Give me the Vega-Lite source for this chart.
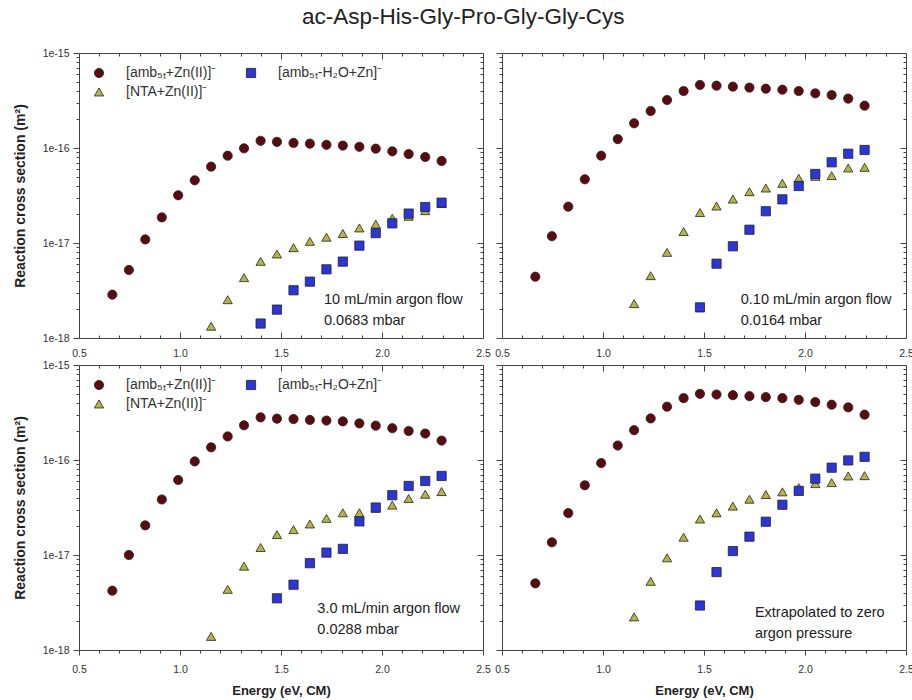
{
  "$schema": "https://vega.github.io/schema/vega-lite/v6.json",
  "padding": {"left": 12, "top": 6, "right": 0, "bottom": 0},
  "title": {"text": "ac-Asp-His-Gly-Pro-Gly-Gly-Cys", "fontSize": 22.5, "fontWeight": "normal", "font": "Liberation Sans", "color": "#222", "anchor": "middle", "frame": "bounds", "offset": 19},
  "config": {
    "font": "Liberation Sans",
    "view": {"stroke": "#444", "strokeWidth": 1},
    "axis": {"grid": false, "domain": false, "ticks": true, "labelFont": "Liberation Sans", "labelFontSize": 10.5, "labelColor": "#333", "tickColor": "#444", "tickWidth": 1, "titleFont": "Liberation Sans", "titleFontSize": 13, "titleFontWeight": "bold", "titleColor": "#222", "labelOverlap": false, "labelFlush": false},
    "axisY": {"titleFontSize": 14},
    "legend": {"labelFont": "Liberation Sans", "orient": "top-left", "columns": 2, "offset": 13, "labelFontSize": 14, "labelColor": "#333", "symbolSize": 85, "symbolStrokeColor": "#222", "symbolStrokeWidth": 0.8, "columnPadding": 27, "rowPadding": 5, "labelOffset": 20}
  },
  "datasets": {
    "points": [
      {"panel":"A","series":"amb+Zn","energy":0.665,"sigma":2.86e-18},
      {"panel":"A","series":"amb+Zn","energy":0.747,"sigma":5.2e-18},
      {"panel":"A","series":"amb+Zn","energy":0.828,"sigma":1.09e-17},
      {"panel":"A","series":"amb+Zn","energy":0.910,"sigma":1.86e-17},
      {"panel":"A","series":"amb+Zn","energy":0.991,"sigma":3.18e-17},
      {"panel":"A","series":"amb+Zn","energy":1.073,"sigma":4.57e-17},
      {"panel":"A","series":"amb+Zn","energy":1.154,"sigma":6.36e-17},
      {"panel":"A","series":"amb+Zn","energy":1.236,"sigma":8.3e-17},
      {"panel":"A","series":"amb+Zn","energy":1.317,"sigma":9.92e-17},
      {"panel":"A","series":"amb+Zn","energy":1.399,"sigma":1.19e-16},
      {"panel":"A","series":"amb+Zn","energy":1.480,"sigma":1.16e-16},
      {"panel":"A","series":"amb+Zn","energy":1.562,"sigma":1.13e-16},
      {"panel":"A","series":"amb+Zn","energy":1.643,"sigma":1.11e-16},
      {"panel":"A","series":"amb+Zn","energy":1.725,"sigma":1.08e-16},
      {"panel":"A","series":"amb+Zn","energy":1.806,"sigma":1.06e-16},
      {"panel":"A","series":"amb+Zn","energy":1.888,"sigma":1.03e-16},
      {"panel":"A","series":"amb+Zn","energy":1.969,"sigma":9.84e-17},
      {"panel":"A","series":"amb+Zn","energy":2.051,"sigma":9.22e-17},
      {"panel":"A","series":"amb+Zn","energy":2.132,"sigma":8.64e-17},
      {"panel":"A","series":"amb+Zn","energy":2.214,"sigma":8.04e-17},
      {"panel":"A","series":"amb+Zn","energy":2.295,"sigma":7.3e-17},
      {"panel":"A","series":"NTA+Zn","energy":1.154,"sigma":1.33e-18},
      {"panel":"A","series":"NTA+Zn","energy":1.236,"sigma":2.53e-18},
      {"panel":"A","series":"NTA+Zn","energy":1.317,"sigma":4.32e-18},
      {"panel":"A","series":"NTA+Zn","energy":1.399,"sigma":6.41e-18},
      {"panel":"A","series":"NTA+Zn","energy":1.480,"sigma":7.66e-18},
      {"panel":"A","series":"NTA+Zn","energy":1.562,"sigma":8.93e-18},
      {"panel":"A","series":"NTA+Zn","energy":1.643,"sigma":1.04e-17},
      {"panel":"A","series":"NTA+Zn","energy":1.725,"sigma":1.15e-17},
      {"panel":"A","series":"NTA+Zn","energy":1.806,"sigma":1.26e-17},
      {"panel":"A","series":"NTA+Zn","energy":1.888,"sigma":1.44e-17},
      {"panel":"A","series":"NTA+Zn","energy":1.969,"sigma":1.58e-17},
      {"panel":"A","series":"NTA+Zn","energy":2.051,"sigma":1.82e-17},
      {"panel":"A","series":"NTA+Zn","energy":2.132,"sigma":1.91e-17},
      {"panel":"A","series":"NTA+Zn","energy":2.214,"sigma":2.19e-17},
      {"panel":"A","series":"NTA+Zn","energy":2.295,"sigma":2.6e-17},
      {"panel":"A","series":"amb-H2O+Zn","energy":1.399,"sigma":1.42e-18},
      {"panel":"A","series":"amb-H2O+Zn","energy":1.480,"sigma":1.99e-18},
      {"panel":"A","series":"amb-H2O+Zn","energy":1.562,"sigma":3.18e-18},
      {"panel":"A","series":"amb-H2O+Zn","energy":1.643,"sigma":3.92e-18},
      {"panel":"A","series":"amb-H2O+Zn","energy":1.725,"sigma":5.28e-18},
      {"panel":"A","series":"amb-H2O+Zn","energy":1.806,"sigma":6.37e-18},
      {"panel":"A","series":"amb-H2O+Zn","energy":1.888,"sigma":9.38e-18},
      {"panel":"A","series":"amb-H2O+Zn","energy":1.969,"sigma":1.27e-17},
      {"panel":"A","series":"amb-H2O+Zn","energy":2.051,"sigma":1.61e-17},
      {"panel":"A","series":"amb-H2O+Zn","energy":2.132,"sigma":2.04e-17},
      {"panel":"A","series":"amb-H2O+Zn","energy":2.214,"sigma":2.39e-17},
      {"panel":"A","series":"amb-H2O+Zn","energy":2.295,"sigma":2.66e-17},

      {"panel":"B","series":"amb+Zn","energy":0.665,"sigma":4.42e-18},
      {"panel":"B","series":"amb+Zn","energy":0.747,"sigma":1.18e-17},
      {"panel":"B","series":"amb+Zn","energy":0.828,"sigma":2.41e-17},
      {"panel":"B","series":"amb+Zn","energy":0.910,"sigma":4.68e-17},
      {"panel":"B","series":"amb+Zn","energy":0.991,"sigma":8.3e-17},
      {"panel":"B","series":"amb+Zn","energy":1.073,"sigma":1.24e-16},
      {"panel":"B","series":"amb+Zn","energy":1.154,"sigma":1.82e-16},
      {"panel":"B","series":"amb+Zn","energy":1.236,"sigma":2.45e-16},
      {"panel":"B","series":"amb+Zn","energy":1.317,"sigma":3.2e-16},
      {"panel":"B","series":"amb+Zn","energy":1.399,"sigma":3.98e-16},
      {"panel":"B","series":"amb+Zn","energy":1.480,"sigma":4.61e-16},
      {"panel":"B","series":"amb+Zn","energy":1.562,"sigma":4.53e-16},
      {"panel":"B","series":"amb+Zn","energy":1.643,"sigma":4.42e-16},
      {"panel":"B","series":"amb+Zn","energy":1.725,"sigma":4.32e-16},
      {"panel":"B","series":"amb+Zn","energy":1.806,"sigma":4.21e-16},
      {"panel":"B","series":"amb+Zn","energy":1.888,"sigma":4.11e-16},
      {"panel":"B","series":"amb+Zn","energy":1.969,"sigma":3.98e-16},
      {"panel":"B","series":"amb+Zn","energy":2.051,"sigma":3.76e-16},
      {"panel":"B","series":"amb+Zn","energy":2.132,"sigma":3.61e-16},
      {"panel":"B","series":"amb+Zn","energy":2.214,"sigma":3.31e-16},
      {"panel":"B","series":"amb+Zn","energy":2.295,"sigma":2.79e-16},
      {"panel":"B","series":"NTA+Zn","energy":1.154,"sigma":2.3e-18},
      {"panel":"B","series":"NTA+Zn","energy":1.236,"sigma":4.53e-18},
      {"panel":"B","series":"NTA+Zn","energy":1.317,"sigma":7.97e-18},
      {"panel":"B","series":"NTA+Zn","energy":1.399,"sigma":1.32e-17},
      {"panel":"B","series":"NTA+Zn","energy":1.480,"sigma":2.09e-17},
      {"panel":"B","series":"NTA+Zn","energy":1.562,"sigma":2.45e-17},
      {"panel":"B","series":"NTA+Zn","energy":1.643,"sigma":2.9e-17},
      {"panel":"B","series":"NTA+Zn","energy":1.725,"sigma":3.47e-17},
      {"panel":"B","series":"NTA+Zn","energy":1.806,"sigma":3.79e-17},
      {"panel":"B","series":"NTA+Zn","energy":1.888,"sigma":4.25e-17},
      {"panel":"B","series":"NTA+Zn","energy":1.969,"sigma":4.8e-17},
      {"panel":"B","series":"NTA+Zn","energy":2.051,"sigma":5.03e-17},
      {"panel":"B","series":"NTA+Zn","energy":2.132,"sigma":5.12e-17},
      {"panel":"B","series":"NTA+Zn","energy":2.214,"sigma":6.16e-17},
      {"panel":"B","series":"NTA+Zn","energy":2.295,"sigma":6.26e-17},
      {"panel":"B","series":"amb-H2O+Zn","energy":1.480,"sigma":2.1e-18},
      {"panel":"B","series":"amb-H2O+Zn","energy":1.562,"sigma":6.06e-18},
      {"panel":"B","series":"amb-H2O+Zn","energy":1.643,"sigma":9.23e-18},
      {"panel":"B","series":"amb-H2O+Zn","energy":1.725,"sigma":1.38e-17},
      {"panel":"B","series":"amb-H2O+Zn","energy":1.806,"sigma":2.16e-17},
      {"panel":"B","series":"amb-H2O+Zn","energy":1.888,"sigma":2.88e-17},
      {"panel":"B","series":"amb-H2O+Zn","energy":1.969,"sigma":3.98e-17},
      {"panel":"B","series":"amb-H2O+Zn","energy":2.051,"sigma":5.33e-17},
      {"panel":"B","series":"amb-H2O+Zn","energy":2.132,"sigma":7.07e-17},
      {"panel":"B","series":"amb-H2O+Zn","energy":2.214,"sigma":8.71e-17},
      {"panel":"B","series":"amb-H2O+Zn","energy":2.295,"sigma":9.53e-17},

      {"panel":"C","series":"amb+Zn","energy":0.665,"sigma":4.21e-18},
      {"panel":"C","series":"amb+Zn","energy":0.747,"sigma":1.0e-17},
      {"panel":"C","series":"amb+Zn","energy":0.828,"sigma":2.05e-17},
      {"panel":"C","series":"amb+Zn","energy":0.910,"sigma":3.84e-17},
      {"panel":"C","series":"amb+Zn","energy":0.991,"sigma":6.16e-17},
      {"panel":"C","series":"amb+Zn","energy":1.073,"sigma":9.66e-17},
      {"panel":"C","series":"amb+Zn","energy":1.154,"sigma":1.36e-16},
      {"panel":"C","series":"amb+Zn","energy":1.236,"sigma":1.77e-16},
      {"panel":"C","series":"amb+Zn","energy":1.317,"sigma":2.32e-16},
      {"panel":"C","series":"amb+Zn","energy":1.399,"sigma":2.81e-16},
      {"panel":"C","series":"amb+Zn","energy":1.480,"sigma":2.72e-16},
      {"panel":"C","series":"amb+Zn","energy":1.562,"sigma":2.7e-16},
      {"panel":"C","series":"amb+Zn","energy":1.643,"sigma":2.64e-16},
      {"panel":"C","series":"amb+Zn","energy":1.725,"sigma":2.6e-16},
      {"panel":"C","series":"amb+Zn","energy":1.806,"sigma":2.55e-16},
      {"panel":"C","series":"amb+Zn","energy":1.888,"sigma":2.43e-16},
      {"panel":"C","series":"amb+Zn","energy":1.969,"sigma":2.3e-16},
      {"panel":"C","series":"amb+Zn","energy":2.051,"sigma":2.16e-16},
      {"panel":"C","series":"amb+Zn","energy":2.132,"sigma":2.02e-16},
      {"panel":"C","series":"amb+Zn","energy":2.214,"sigma":1.9e-16},
      {"panel":"C","series":"amb+Zn","energy":2.295,"sigma":1.6e-16},
      {"panel":"C","series":"NTA+Zn","energy":1.154,"sigma":1.39e-18},
      {"panel":"C","series":"NTA+Zn","energy":1.236,"sigma":4.35e-18},
      {"panel":"C","series":"NTA+Zn","energy":1.317,"sigma":7.63e-18},
      {"panel":"C","series":"NTA+Zn","energy":1.399,"sigma":1.2e-17},
      {"panel":"C","series":"NTA+Zn","energy":1.480,"sigma":1.64e-17},
      {"panel":"C","series":"NTA+Zn","energy":1.562,"sigma":1.85e-17},
      {"panel":"C","series":"NTA+Zn","energy":1.643,"sigma":2.12e-17},
      {"panel":"C","series":"NTA+Zn","energy":1.725,"sigma":2.43e-17},
      {"panel":"C","series":"NTA+Zn","energy":1.806,"sigma":2.78e-17},
      {"panel":"C","series":"NTA+Zn","energy":1.888,"sigma":2.78e-17},
      {"panel":"C","series":"NTA+Zn","energy":1.969,"sigma":3.11e-17},
      {"panel":"C","series":"NTA+Zn","energy":2.051,"sigma":3.35e-17},
      {"panel":"C","series":"NTA+Zn","energy":2.132,"sigma":3.93e-17},
      {"panel":"C","series":"NTA+Zn","energy":2.214,"sigma":4.36e-17},
      {"panel":"C","series":"NTA+Zn","energy":2.295,"sigma":4.65e-17},
      {"panel":"C","series":"amb-H2O+Zn","energy":1.480,"sigma":3.5e-18},
      {"panel":"C","series":"amb-H2O+Zn","energy":1.562,"sigma":4.87e-18},
      {"panel":"C","series":"amb-H2O+Zn","energy":1.643,"sigma":8.2e-18},
      {"panel":"C","series":"amb-H2O+Zn","energy":1.725,"sigma":1.06e-17},
      {"panel":"C","series":"amb-H2O+Zn","energy":1.806,"sigma":1.16e-17},
      {"panel":"C","series":"amb-H2O+Zn","energy":1.888,"sigma":2.26e-17},
      {"panel":"C","series":"amb-H2O+Zn","energy":1.969,"sigma":3.16e-17},
      {"panel":"C","series":"amb-H2O+Zn","energy":2.051,"sigma":4.26e-17},
      {"panel":"C","series":"amb-H2O+Zn","energy":2.132,"sigma":5.33e-17},
      {"panel":"C","series":"amb-H2O+Zn","energy":2.214,"sigma":6.01e-17},
      {"panel":"C","series":"amb-H2O+Zn","energy":2.295,"sigma":6.79e-17},

      {"panel":"D","series":"amb+Zn","energy":0.665,"sigma":5.03e-18},
      {"panel":"D","series":"amb+Zn","energy":0.747,"sigma":1.36e-17},
      {"panel":"D","series":"amb+Zn","energy":0.828,"sigma":2.76e-17},
      {"panel":"D","series":"amb+Zn","energy":0.910,"sigma":5.42e-17},
      {"panel":"D","series":"amb+Zn","energy":0.991,"sigma":9.28e-17},
      {"panel":"D","series":"amb+Zn","energy":1.073,"sigma":1.42e-16},
      {"panel":"D","series":"amb+Zn","energy":1.154,"sigma":2.06e-16},
      {"panel":"D","series":"amb+Zn","energy":1.236,"sigma":2.74e-16},
      {"panel":"D","series":"amb+Zn","energy":1.317,"sigma":3.64e-16},
      {"panel":"D","series":"amb+Zn","energy":1.399,"sigma":4.48e-16},
      {"panel":"D","series":"amb+Zn","energy":1.480,"sigma":4.97e-16},
      {"panel":"D","series":"amb+Zn","energy":1.562,"sigma":4.89e-16},
      {"panel":"D","series":"amb+Zn","energy":1.643,"sigma":4.81e-16},
      {"panel":"D","series":"amb+Zn","energy":1.725,"sigma":4.7e-16},
      {"panel":"D","series":"amb+Zn","energy":1.806,"sigma":4.59e-16},
      {"panel":"D","series":"amb+Zn","energy":1.888,"sigma":4.48e-16},
      {"panel":"D","series":"amb+Zn","energy":1.969,"sigma":4.3e-16},
      {"panel":"D","series":"amb+Zn","energy":2.051,"sigma":4.07e-16},
      {"panel":"D","series":"amb+Zn","energy":2.132,"sigma":3.82e-16},
      {"panel":"D","series":"amb+Zn","energy":2.214,"sigma":3.58e-16},
      {"panel":"D","series":"amb+Zn","energy":2.295,"sigma":3.0e-16},
      {"panel":"D","series":"NTA+Zn","energy":1.154,"sigma":2.23e-18},
      {"panel":"D","series":"NTA+Zn","energy":1.236,"sigma":5.28e-18},
      {"panel":"D","series":"NTA+Zn","energy":1.317,"sigma":9.33e-18},
      {"panel":"D","series":"NTA+Zn","energy":1.399,"sigma":1.54e-17},
      {"panel":"D","series":"NTA+Zn","energy":1.480,"sigma":2.39e-17},
      {"panel":"D","series":"NTA+Zn","energy":1.562,"sigma":2.78e-17},
      {"panel":"D","series":"NTA+Zn","energy":1.643,"sigma":3.27e-17},
      {"panel":"D","series":"NTA+Zn","energy":1.725,"sigma":3.87e-17},
      {"panel":"D","series":"NTA+Zn","energy":1.806,"sigma":4.33e-17},
      {"panel":"D","series":"NTA+Zn","energy":1.888,"sigma":4.62e-17},
      {"panel":"D","series":"NTA+Zn","energy":1.969,"sigma":5.12e-17},
      {"panel":"D","series":"NTA+Zn","energy":2.051,"sigma":5.64e-17},
      {"panel":"D","series":"NTA+Zn","energy":2.132,"sigma":5.78e-17},
      {"panel":"D","series":"NTA+Zn","energy":2.214,"sigma":6.79e-17},
      {"panel":"D","series":"NTA+Zn","energy":2.295,"sigma":6.84e-17},
      {"panel":"D","series":"amb-H2O+Zn","energy":1.480,"sigma":2.94e-18},
      {"panel":"D","series":"amb-H2O+Zn","energy":1.562,"sigma":6.61e-18},
      {"panel":"D","series":"amb-H2O+Zn","energy":1.643,"sigma":1.1e-17},
      {"panel":"D","series":"amb-H2O+Zn","energy":1.725,"sigma":1.56e-17},
      {"panel":"D","series":"amb-H2O+Zn","energy":1.806,"sigma":2.24e-17},
      {"panel":"D","series":"amb-H2O+Zn","energy":1.888,"sigma":3.38e-17},
      {"panel":"D","series":"amb-H2O+Zn","energy":1.969,"sigma":4.73e-17},
      {"panel":"D","series":"amb-H2O+Zn","energy":2.051,"sigma":6.36e-17},
      {"panel":"D","series":"amb-H2O+Zn","energy":2.132,"sigma":8.3e-17},
      {"panel":"D","series":"amb-H2O+Zn","energy":2.214,"sigma":9.9e-17},
      {"panel":"D","series":"amb-H2O+Zn","energy":2.295,"sigma":1.08e-16}
    ]
  },
  "columns": 2,
  "spacing": {"row": 27, "column": 19},
  "bounds": "flush",
  "resolve": {"legend": {"color": "independent", "shape": "independent"}},
  "concat": [
    {
      "width": 404, "height": 285,
      "layer": [
        {"data": {"name": "points"}, "transform": [{"filter": "datum.panel === 'A'"}], "mark": {"type": "point", "opacity": 0},
         "encoding": {
           "x": {"field": "energy", "type": "quantitative", "scale": {"domain": [0.5, 2.5], "nice": false, "zero": false}, "axis": {"orient": "top", "labels": false, "title": null, "values": [0.5,1.0,1.5,2.0,2.5], "tickSize": -6}},
           "y": {"field": "sigma", "type": "quantitative", "scale": {"type": "log", "domain": [1e-18, 1e-15], "nice": false}, "axis": {"orient": "right", "labels": false, "title": null, "values": [1e-18,1e-17,1e-16,1e-15], "tickSize": -6}}}},
        {"data": {"name": "points"}, "transform": [{"filter": "datum.panel === 'A'"}], "mark": {"type": "point", "opacity": 0},
         "encoding": {
           "x": {"field": "energy", "type": "quantitative", "scale": {"domain": [0.5, 2.5], "nice": false, "zero": false}, "axis": {"orient": "top", "labels": false, "title": null, "values": [0.6,0.7,0.8,0.9,1.1,1.2,1.3,1.4,1.6,1.7,1.8,1.9,2.1,2.2,2.3,2.4], "tickSize": -3}},
           "y": {"field": "sigma", "type": "quantitative", "scale": {"type": "log", "domain": [1e-18, 1e-15], "nice": false}, "axis": {"orient": "right", "labels": false, "title": null, "values": [2e-18,3e-18,4e-18,5e-18,6e-18,7e-18,8e-18,9e-18,2e-17,3e-17,4e-17,5e-17,6e-17,7e-17,8e-17,9e-17,2e-16,3e-16,4e-16,5e-16,6e-16,7e-16,8e-16,9e-16], "tickSize": -3}}}},
        {"data": {"name": "points"}, "transform": [{"filter": "datum.panel === 'A'"}], "mark": {"type": "point", "opacity": 0},
         "encoding": {
           "x": {"field": "energy", "type": "quantitative", "scale": {"domain": [0.5, 2.5], "nice": false, "zero": false}, "axis": {"orient": "bottom", "labels": false, "title": null, "values": [0.6,0.7,0.8,0.9,1.1,1.2,1.3,1.4,1.6,1.7,1.8,1.9,2.1,2.2,2.3,2.4], "tickSize": -3}},
           "y": {"field": "sigma", "type": "quantitative", "scale": {"type": "log", "domain": [1e-18, 1e-15], "nice": false}, "axis": {"orient": "left", "labels": false, "title": null, "values": [2e-18,3e-18,4e-18,5e-18,6e-18,7e-18,8e-18,9e-18,2e-17,3e-17,4e-17,5e-17,6e-17,7e-17,8e-17,9e-17,2e-16,3e-16,4e-16,5e-16,6e-16,7e-16,8e-16,9e-16], "tickSize": 3}}}},
        {"data": {"name": "points"}, "transform": [{"filter": "datum.panel === 'A'"}],
         "mark": {"type": "point", "filled": true, "opacity": 1, "size": 85, "stroke": "#222", "strokeWidth": 0.8},
         "encoding": {
           "x": {"field": "energy", "type": "quantitative", "scale": {"domain": [0.5, 2.5], "nice": false, "zero": false}, "axis": {"orient": "bottom", "title": null, "values": [0.5,1.0,1.5,2.0,2.5], "format": ".1f", "tickSize": -6, "labelPadding": 16}},
           "y": {"field": "sigma", "type": "quantitative", "scale": {"type": "log", "domain": [1e-18, 1e-15], "nice": false}, "axis": {"orient": "left", "title": "Reaction cross section (m²)", "titlePadding": 15, "values": [1e-18,1e-17,1e-16,1e-15], "labelExpr": "'1e' + round(log(datum.value)/LN10)", "tickSize": 6, "labelPadding": 4}},
           "color": {"field": "series", "type": "nominal", "scale": {"domain": ["amb+Zn", "NTA+Zn", "amb-H2O+Zn"], "range": ["#5a0b12", "#b5b545", "#2b36d6"]},
                     "legend": {"title": null, "labelExpr": "datum.label == 'amb+Zn' ? '[amb₅ₜ+Zn(II)]⁻' : datum.label == 'amb-H2O+Zn' ? '[amb₅ₜ-H₂O+Zn]⁻' : '[NTA+Zn(II)]⁻'"}},
           "shape": {"field": "series", "type": "nominal", "scale": {"domain": ["amb+Zn", "NTA+Zn", "amb-H2O+Zn"], "range": ["circle", "triangle-up", "square"]},
                     "legend": {"title": null, "labelExpr": "datum.label == 'amb+Zn' ? '[amb₅ₜ+Zn(II)]⁻' : datum.label == 'amb-H2O+Zn' ? '[amb₅ₜ-H₂O+Zn]⁻' : '[NTA+Zn(II)]⁻'"}}}},
        {"data": {"values": [{"note": ["10 mL/min argon flow", "0.0683 mbar"]}]},
         "mark": {"type": "text", "align": "left", "baseline": "middle", "fontSize": 14.5, "lineHeight": 21, "font": "Liberation Sans", "color": "#222"},
         "encoding": {"x": {"datum": 1.713, "type": "quantitative", "axis": null}, "y": {"datum": 2.54e-18, "type": "quantitative", "axis": null}, "text": {"field": "note"}}}
      ],
      "resolve": {"axis": {"x": "independent", "y": "independent"}}
    },
    {
      "width": 404, "height": 285,
      "layer": [
        {"data": {"name": "points"}, "transform": [{"filter": "datum.panel === 'B'"}], "mark": {"type": "point", "opacity": 0},
         "encoding": {
           "x": {"field": "energy", "type": "quantitative", "scale": {"domain": [0.5, 2.5], "nice": false, "zero": false}, "axis": {"orient": "top", "labels": false, "title": null, "values": [0.5,1.0,1.5,2.0,2.5], "tickSize": -6}},
           "y": {"field": "sigma", "type": "quantitative", "scale": {"type": "log", "domain": [1e-18, 1e-15], "nice": false}, "axis": {"orient": "right", "labels": false, "title": null, "values": [1e-18,1e-17,1e-16,1e-15], "tickSize": -6}}}},
        {"data": {"name": "points"}, "transform": [{"filter": "datum.panel === 'B'"}], "mark": {"type": "point", "opacity": 0},
         "encoding": {
           "x": {"field": "energy", "type": "quantitative", "scale": {"domain": [0.5, 2.5], "nice": false, "zero": false}, "axis": {"orient": "top", "labels": false, "title": null, "values": [0.6,0.7,0.8,0.9,1.1,1.2,1.3,1.4,1.6,1.7,1.8,1.9,2.1,2.2,2.3,2.4], "tickSize": -3}},
           "y": {"field": "sigma", "type": "quantitative", "scale": {"type": "log", "domain": [1e-18, 1e-15], "nice": false}, "axis": {"orient": "right", "labels": false, "title": null, "values": [2e-18,3e-18,4e-18,5e-18,6e-18,7e-18,8e-18,9e-18,2e-17,3e-17,4e-17,5e-17,6e-17,7e-17,8e-17,9e-17,2e-16,3e-16,4e-16,5e-16,6e-16,7e-16,8e-16,9e-16], "tickSize": -3}}}},
        {"data": {"name": "points"}, "transform": [{"filter": "datum.panel === 'B'"}], "mark": {"type": "point", "opacity": 0},
         "encoding": {
           "x": {"field": "energy", "type": "quantitative", "scale": {"domain": [0.5, 2.5], "nice": false, "zero": false}, "axis": {"orient": "bottom", "labels": false, "title": null, "values": [0.6,0.7,0.8,0.9,1.1,1.2,1.3,1.4,1.6,1.7,1.8,1.9,2.1,2.2,2.3,2.4], "tickSize": -3}},
           "y": {"field": "sigma", "type": "quantitative", "scale": {"type": "log", "domain": [1e-18, 1e-15], "nice": false}, "axis": {"orient": "left", "labels": false, "title": null, "values": [2e-18,3e-18,4e-18,5e-18,6e-18,7e-18,8e-18,9e-18,2e-17,3e-17,4e-17,5e-17,6e-17,7e-17,8e-17,9e-17,2e-16,3e-16,4e-16,5e-16,6e-16,7e-16,8e-16,9e-16], "tickSize": 3}}}},
        {"data": {"name": "points"}, "transform": [{"filter": "datum.panel === 'B'"}],
         "mark": {"type": "point", "filled": true, "opacity": 1, "size": 85, "stroke": "#222", "strokeWidth": 0.8},
         "encoding": {
           "x": {"field": "energy", "type": "quantitative", "scale": {"domain": [0.5, 2.5], "nice": false, "zero": false}, "axis": {"orient": "bottom", "title": null, "values": [0.5,1.0,1.5,2.0,2.5], "format": ".1f", "tickSize": -6, "labelPadding": 16}},
           "y": {"field": "sigma", "type": "quantitative", "scale": {"type": "log", "domain": [1e-18, 1e-15], "nice": false}, "axis": {"orient": "left", "title": null, "labels": false, "values": [1e-18,1e-17,1e-16,1e-15], "tickSize": 6}},
           "color": {"field": "series", "type": "nominal", "scale": {"domain": ["amb+Zn", "NTA+Zn", "amb-H2O+Zn"], "range": ["#5a0b12", "#b5b545", "#2b36d6"]}, "legend": null},
           "shape": {"field": "series", "type": "nominal", "scale": {"domain": ["amb+Zn", "NTA+Zn", "amb-H2O+Zn"], "range": ["circle", "triangle-up", "square"]}, "legend": null}}},
        {"data": {"values": [{"note": ["0.10 mL/min argon flow", "0.0164 mbar"]}]},
         "mark": {"type": "text", "align": "left", "baseline": "middle", "fontSize": 14.5, "lineHeight": 21, "font": "Liberation Sans", "color": "#222"},
         "encoding": {"x": {"datum": 1.682, "type": "quantitative", "axis": null}, "y": {"datum": 2.54e-18, "type": "quantitative", "axis": null}, "text": {"field": "note"}}}
      ],
      "resolve": {"axis": {"x": "independent", "y": "independent"}}
    },
    {
      "width": 404, "height": 285,
      "layer": [
        {"data": {"name": "points"}, "transform": [{"filter": "datum.panel === 'C'"}], "mark": {"type": "point", "opacity": 0},
         "encoding": {
           "x": {"field": "energy", "type": "quantitative", "scale": {"domain": [0.5, 2.5], "nice": false, "zero": false}, "axis": {"orient": "top", "labels": false, "title": null, "values": [0.5,1.0,1.5,2.0,2.5], "tickSize": -6}},
           "y": {"field": "sigma", "type": "quantitative", "scale": {"type": "log", "domain": [1e-18, 1e-15], "nice": false}, "axis": {"orient": "right", "labels": false, "title": null, "values": [1e-18,1e-17,1e-16,1e-15], "tickSize": -6}}}},
        {"data": {"name": "points"}, "transform": [{"filter": "datum.panel === 'C'"}], "mark": {"type": "point", "opacity": 0},
         "encoding": {
           "x": {"field": "energy", "type": "quantitative", "scale": {"domain": [0.5, 2.5], "nice": false, "zero": false}, "axis": {"orient": "top", "labels": false, "title": null, "values": [0.6,0.7,0.8,0.9,1.1,1.2,1.3,1.4,1.6,1.7,1.8,1.9,2.1,2.2,2.3,2.4], "tickSize": -3}},
           "y": {"field": "sigma", "type": "quantitative", "scale": {"type": "log", "domain": [1e-18, 1e-15], "nice": false}, "axis": {"orient": "right", "labels": false, "title": null, "values": [2e-18,3e-18,4e-18,5e-18,6e-18,7e-18,8e-18,9e-18,2e-17,3e-17,4e-17,5e-17,6e-17,7e-17,8e-17,9e-17,2e-16,3e-16,4e-16,5e-16,6e-16,7e-16,8e-16,9e-16], "tickSize": -3}}}},
        {"data": {"name": "points"}, "transform": [{"filter": "datum.panel === 'C'"}], "mark": {"type": "point", "opacity": 0},
         "encoding": {
           "x": {"field": "energy", "type": "quantitative", "scale": {"domain": [0.5, 2.5], "nice": false, "zero": false}, "axis": {"orient": "bottom", "labels": false, "title": null, "values": [0.6,0.7,0.8,0.9,1.1,1.2,1.3,1.4,1.6,1.7,1.8,1.9,2.1,2.2,2.3,2.4], "tickSize": 3}},
           "y": {"field": "sigma", "type": "quantitative", "scale": {"type": "log", "domain": [1e-18, 1e-15], "nice": false}, "axis": {"orient": "left", "labels": false, "title": null, "values": [2e-18,3e-18,4e-18,5e-18,6e-18,7e-18,8e-18,9e-18,2e-17,3e-17,4e-17,5e-17,6e-17,7e-17,8e-17,9e-17,2e-16,3e-16,4e-16,5e-16,6e-16,7e-16,8e-16,9e-16], "tickSize": 3}}}},
        {"data": {"name": "points"}, "transform": [{"filter": "datum.panel === 'C'"}],
         "mark": {"type": "point", "filled": true, "opacity": 1, "size": 85, "stroke": "#222", "strokeWidth": 0.8},
         "encoding": {
           "x": {"field": "energy", "type": "quantitative", "scale": {"domain": [0.5, 2.5], "nice": false, "zero": false}, "axis": {"orient": "bottom", "title": "Energy (eV, CM)", "titlePadding": 10, "values": [0.5,1.0,1.5,2.0,2.5], "format": ".1f", "tickSize": 5, "labelPadding": 9}},
           "y": {"field": "sigma", "type": "quantitative", "scale": {"type": "log", "domain": [1e-18, 1e-15], "nice": false}, "axis": {"orient": "left", "title": "Reaction cross section (m²)", "titlePadding": 15, "values": [1e-18,1e-17,1e-16,1e-15], "labelExpr": "'1e' + round(log(datum.value)/LN10)", "tickSize": 6, "labelPadding": 4}},
           "color": {"field": "series", "type": "nominal", "scale": {"domain": ["amb+Zn", "NTA+Zn", "amb-H2O+Zn"], "range": ["#5a0b12", "#b5b545", "#2b36d6"]},
                     "legend": {"title": null, "labelExpr": "datum.label == 'amb+Zn' ? '[amb₅ₜ+Zn(II)]⁻' : datum.label == 'amb-H2O+Zn' ? '[amb₅ₜ-H₂O+Zn]⁻' : '[NTA+Zn(II)]⁻'"}},
           "shape": {"field": "series", "type": "nominal", "scale": {"domain": ["amb+Zn", "NTA+Zn", "amb-H2O+Zn"], "range": ["circle", "triangle-up", "square"]},
                     "legend": {"title": null, "labelExpr": "datum.label == 'amb+Zn' ? '[amb₅ₜ+Zn(II)]⁻' : datum.label == 'amb-H2O+Zn' ? '[amb₅ₜ-H₂O+Zn]⁻' : '[NTA+Zn(II)]⁻'"}}}},
        {"data": {"values": [{"note": ["3.0 mL/min argon flow", "0.0288 mbar"]}]},
         "mark": {"type": "text", "align": "left", "baseline": "middle", "fontSize": 14.5, "lineHeight": 21, "font": "Liberation Sans", "color": "#222"},
         "encoding": {"x": {"datum": 1.68, "type": "quantitative", "axis": null}, "y": {"datum": 2.69e-18, "type": "quantitative", "axis": null}, "text": {"field": "note"}}}
      ],
      "resolve": {"axis": {"x": "independent", "y": "independent"}}
    },
    {
      "width": 404, "height": 285,
      "layer": [
        {"data": {"name": "points"}, "transform": [{"filter": "datum.panel === 'D'"}], "mark": {"type": "point", "opacity": 0},
         "encoding": {
           "x": {"field": "energy", "type": "quantitative", "scale": {"domain": [0.5, 2.5], "nice": false, "zero": false}, "axis": {"orient": "top", "labels": false, "title": null, "values": [0.5,1.0,1.5,2.0,2.5], "tickSize": -6}},
           "y": {"field": "sigma", "type": "quantitative", "scale": {"type": "log", "domain": [1e-18, 1e-15], "nice": false}, "axis": {"orient": "right", "labels": false, "title": null, "values": [1e-18,1e-17,1e-16,1e-15], "tickSize": -6}}}},
        {"data": {"name": "points"}, "transform": [{"filter": "datum.panel === 'D'"}], "mark": {"type": "point", "opacity": 0},
         "encoding": {
           "x": {"field": "energy", "type": "quantitative", "scale": {"domain": [0.5, 2.5], "nice": false, "zero": false}, "axis": {"orient": "top", "labels": false, "title": null, "values": [0.6,0.7,0.8,0.9,1.1,1.2,1.3,1.4,1.6,1.7,1.8,1.9,2.1,2.2,2.3,2.4], "tickSize": -3}},
           "y": {"field": "sigma", "type": "quantitative", "scale": {"type": "log", "domain": [1e-18, 1e-15], "nice": false}, "axis": {"orient": "right", "labels": false, "title": null, "values": [2e-18,3e-18,4e-18,5e-18,6e-18,7e-18,8e-18,9e-18,2e-17,3e-17,4e-17,5e-17,6e-17,7e-17,8e-17,9e-17,2e-16,3e-16,4e-16,5e-16,6e-16,7e-16,8e-16,9e-16], "tickSize": -3}}}},
        {"data": {"name": "points"}, "transform": [{"filter": "datum.panel === 'D'"}], "mark": {"type": "point", "opacity": 0},
         "encoding": {
           "x": {"field": "energy", "type": "quantitative", "scale": {"domain": [0.5, 2.5], "nice": false, "zero": false}, "axis": {"orient": "bottom", "labels": false, "title": null, "values": [0.6,0.7,0.8,0.9,1.1,1.2,1.3,1.4,1.6,1.7,1.8,1.9,2.1,2.2,2.3,2.4], "tickSize": 3}},
           "y": {"field": "sigma", "type": "quantitative", "scale": {"type": "log", "domain": [1e-18, 1e-15], "nice": false}, "axis": {"orient": "left", "labels": false, "title": null, "values": [2e-18,3e-18,4e-18,5e-18,6e-18,7e-18,8e-18,9e-18,2e-17,3e-17,4e-17,5e-17,6e-17,7e-17,8e-17,9e-17,2e-16,3e-16,4e-16,5e-16,6e-16,7e-16,8e-16,9e-16], "tickSize": 3}}}},
        {"data": {"name": "points"}, "transform": [{"filter": "datum.panel === 'D'"}],
         "mark": {"type": "point", "filled": true, "opacity": 1, "size": 85, "stroke": "#222", "strokeWidth": 0.8},
         "encoding": {
           "x": {"field": "energy", "type": "quantitative", "scale": {"domain": [0.5, 2.5], "nice": false, "zero": false}, "axis": {"orient": "bottom", "title": "Energy (eV, CM)", "titlePadding": 10, "values": [0.5,1.0,1.5,2.0,2.5], "format": ".1f", "tickSize": 5, "labelPadding": 9}},
           "y": {"field": "sigma", "type": "quantitative", "scale": {"type": "log", "domain": [1e-18, 1e-15], "nice": false}, "axis": {"orient": "left", "title": null, "labels": false, "values": [1e-18,1e-17,1e-16,1e-15], "tickSize": 6}},
           "color": {"field": "series", "type": "nominal", "scale": {"domain": ["amb+Zn", "NTA+Zn", "amb-H2O+Zn"], "range": ["#5a0b12", "#b5b545", "#2b36d6"]}, "legend": null},
           "shape": {"field": "series", "type": "nominal", "scale": {"domain": ["amb+Zn", "NTA+Zn", "amb-H2O+Zn"], "range": ["circle", "triangle-up", "square"]}, "legend": null}}},
        {"data": {"values": [{"note": ["Extrapolated to zero", "argon pressure"]}]},
         "mark": {"type": "text", "align": "left", "baseline": "middle", "fontSize": 14.5, "lineHeight": 21, "font": "Liberation Sans", "color": "#222"},
         "encoding": {"x": {"datum": 1.752, "type": "quantitative", "axis": null}, "y": {"datum": 2.48e-18, "type": "quantitative", "axis": null}, "text": {"field": "note"}}}
      ],
      "resolve": {"axis": {"x": "independent", "y": "independent"}}
    }
  ]
}
